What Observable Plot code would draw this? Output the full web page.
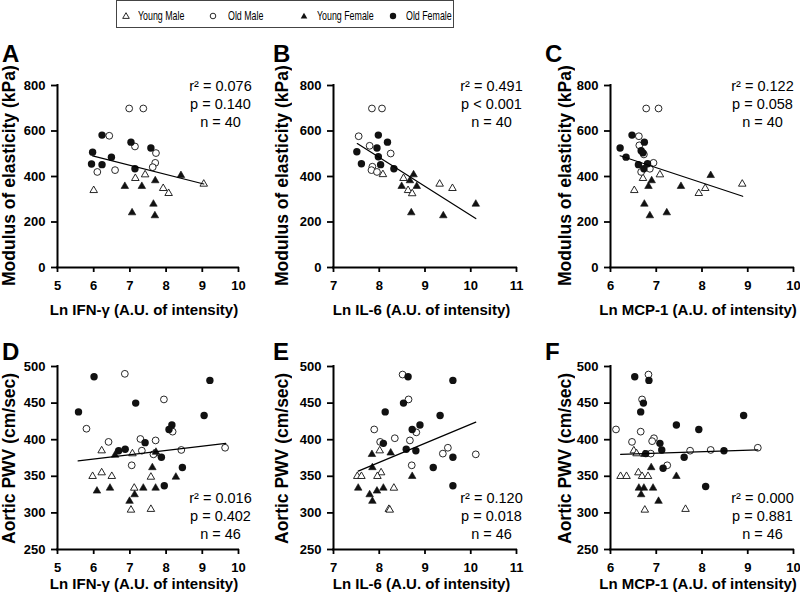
<!DOCTYPE html>
<html><head><meta charset="utf-8">
<script src="https://cdn.jsdelivr.net/npm/d3@7"></script>
<script src="https://cdn.jsdelivr.net/npm/@observablehq/plot@0.6"></script>
<style>
body{margin:0;background:#fff;}
#root{position:relative;width:800px;height:599px;overflow:hidden;background:#fff;font-family:"Liberation Sans",Arial,sans-serif;color:#000;}
.abs{position:absolute;}
.letter{font-size:24px;font-weight:bold;line-height:24px;}
.xt{font-size:15px;font-weight:bold;line-height:15px;width:300px;text-align:center;white-space:nowrap;}
.yt{font-size:17.5px;font-weight:bold;line-height:18px;width:18px;height:260px;text-align:center;white-space:nowrap;writing-mode:vertical-rl;transform:rotate(180deg);}
#legend{left:116px;top:0px;width:338px;height:28px;border:1px solid #444;box-sizing:border-box;}
.lgtext{font-size:13px;line-height:13px;white-space:nowrap;transform:scaleX(0.68);transform-origin:left center;}
</style></head>
<body><div id="root"></div>
<script>
// ---------- data ----------
const legendLabels = ["Young Male", "Old Male", "Young Female", "Old Female"];
const panelLetters = ["A", "B", "C", "D", "E", "F"];
const xTitles = ["Ln IFN-γ (A.U. of intensity)", "Ln IL-6 (A.U. of intensity)", "Ln MCP-1 (A.U. of intensity)"];
const yTitles = ["Modulus of elasticity (kPa)", "Aortic PWV (cm/sec)"];
const xTicksIFN = [5, 6, 7, 8, 9, 10];
const xTicksIL6 = [7, 8, 9, 10, 11];
const xTicksMCP = [6, 7, 8, 9, 10];
const yTicksMod = [0, 200, 400, 600, 800];
const yTicksPWV = [250, 300, 350, 400, 450, 500];

// Panel A: modulus vs Ln IFN-γ
const A_youngMale = [[6.0,339],[7.15,392],[7.42,408],[7.92,348],[8.07,326],[9.04,367]];
const A_oldMale = [[6.98,699],[7.37,699],[6.43,579],[7.14,532],[6.10,420],[6.59,428],[7.72,503],[7.70,460],[7.63,441]];
const A_youngFemale = [[6.86,357],[7.33,357],[7.70,382],[8.41,405],[7.06,241],[7.65,279],[7.69,228]];
const A_oldFemale = [[5.97,507],[5.94,455],[6.23,452],[6.23,582],[6.49,485],[7.03,551],[7.14,434],[7.58,525]];
const A_fit = [[5.97,491],[9.04,367]];
const A_stats = ["r² = 0.076", "p = 0.140", "n = 40"];

// Panel B: modulus vs Ln IL-6
const B_youngMale = [[8.08,409],[8.53,392],[8.63,339],[8.72,325],[9.32,367],[9.60,348]];
const B_oldMale = [[7.84,699],[8.06,699],[7.55,577],[7.79,535],[8.25,501],[7.85,443],[7.83,428],[7.95,420]];
const B_youngFemale = [[8.49,357],[8.75,408],[8.67,382],[8.82,357],[8.70,241],[9.40,228],[10.11,279]];
const B_oldFemale = [[7.98,582],[8.18,551],[7.95,525],[7.51,509],[7.98,487],[8.03,452],[7.61,456],[8.32,434]];
const B_fit = [[7.52,545],[10.11,215]];
const B_stats = ["r² = 0.491", "p < 0.001", "n = 40"];

// Panel C: modulus vs Ln MCP-1
const C_youngMale = [[6.52,339],[6.71,392],[7.08,408],[7.93,326],[8.07,348],[8.88,367]];
const C_oldMale = [[6.78,699],[7.05,699],[6.62,577],[6.63,537],[6.73,497],[6.94,460],[6.67,420],[6.86,434]];
const C_youngFemale = [[6.83,357],[6.90,382],[6.74,279],[6.86,228],[7.23,241],[7.54,357],[8.19,405]];
const C_oldFemale = [[6.21,525],[6.34,485],[6.47,582],[6.74,551],[6.67,513],[6.71,504],[6.61,452],[6.81,456],[6.73,434]];
const C_fit = [[6.21,491],[8.89,313]];
const C_stats = ["r² = 0.122", "p = 0.058", "n = 40"];

// Panel D: PWV vs Ln IFN-γ
const D_youngMale = [[6.22,385],[7.07,381],[5.97,350],[6.22,355],[6.50,350],[7.58,349],[7.12,334],[7.03,304],[7.58,305],[7.67,381]];
const D_oldMale = [[6.86,490],[7.94,455],[5.80,415],[6.41,397],[7.29,401],[7.71,399],[7.33,385],[8.18,411],[8.42,386],[9.63,389],[7.05,365],[7.65,380]];
const D_youngFemale = [[6.59,379],[7.72,383],[7.62,362],[6.09,330],[6.45,334],[6.99,316],[7.13,325],[7.37,334],[7.71,334],[8.27,349]];
const D_oldFemale = [[5.58,438],[6.01,486],[7.16,450],[9.21,481],[9.05,433],[8.16,420],[8.08,414],[7.42,396],[6.69,385],[6.87,387],[7.87,376],[8.45,362],[7.95,337]];
const D_fit = [[5.57,371],[9.65,395]];
const D_stats = ["r² = 0.016", "p = 0.402", "n = 46"];

// Panel E: PWV vs Ln IL-6
const E_youngMale = [[7.52,350],[7.61,350],[8.01,385],[8.04,355],[7.96,350],[8.32,334],[8.21,305],[8.23,304]];
const E_oldMale = [[8.51,489],[8.64,455],[7.89,414],[8.02,397],[8.34,402],[8.67,399],[8.81,410],[8.71,365],[9.50,389],[9.39,381],[10.11,380]];
const E_youngFemale = [[7.84,380],[8.25,382],[7.85,362],[7.54,334],[7.79,325],[7.85,316],[7.95,330],[8.09,334],[8.72,350]];
const E_oldFemale = [[8.63,486],[9.61,481],[8.53,450],[8.13,438],[9.33,433],[8.89,420],[8.72,414],[8.09,395],[8.59,387],[8.80,385],[9.61,376],[9.18,362],[9.61,337]];
const E_fit = [[7.54,357],[10.11,424]];
const E_stats = ["r² = 0.120", "p = 0.018", "n = 46"];

// Panel F: PWV vs Ln MCP-1
const F_youngMale = [[6.22,350],[6.35,350],[6.61,355],[6.69,350],[6.82,350],[6.51,385],[6.57,381],[6.75,304],[7.64,305]];
const F_oldMale = [[6.83,489],[6.69,455],[6.12,414],[6.66,411],[6.47,397],[6.95,402],[6.91,398],[6.88,381],[7.24,365],[7.74,385],[8.19,386],[9.22,389]];
const F_youngFemale = [[6.74,380],[6.89,362],[6.62,334],[6.67,325],[6.73,334],[6.93,334],[7.05,316],[7.44,350]];
const F_oldFemale = [[6.53,486],[6.84,481],[6.72,450],[6.66,438],[7.44,420],[7.93,414],[8.91,433],[7.08,395],[7.12,386],[7.15,361],[7.61,376],[8.48,385],[8.08,336],[6.77,381]];
const F_fit = [[6.22,380],[9.22,386]];
const F_stats = ["r² = 0.000", "p = 0.881", "n = 46"];

// ---------- layout ----------
const root = document.getElementById("root");
const FONT = '"Liberation Sans", Arial, sans-serif';
const intFmt = d3.format("d");

function add(txt, cls, left, top) {
  const d = document.createElement("div");
  d.className = "abs " + cls;
  d.style.left = left + "px";
  d.style.top = top + "px";
  d.textContent = txt;
  root.appendChild(d);
  return d;
}

function panel(p) {
  const frameW = p.frame[1] - p.frame[0];
  const frameH = p.frameY[1] - p.frameY[0];
  const mL = 55, mT = 10, mB = 30, mR = p.mR;
  const g = p.groups;
  const xy = {x: d => d[0], y: d => d[1]};
  const svg = Plot.plot({
    width: mL + frameW + mR,
    height: mT + frameH + mB,
    marginLeft: mL, marginRight: mR, marginTop: mT, marginBottom: mB,
    x: {domain: p.xDomain, label: null, nice: false},
    y: {domain: p.yDomain, label: null, nice: false},
    style: {fontFamily: FONT, fontSize: "13px", fontWeight: "bold", color: "black", background: "transparent", overflow: "visible"},
    marks: [
      Plot.axisX({ticks: p.xTicks, tickFormat: intFmt, tickSize: 5, tickPadding: 8, strokeWidth: 1.8, label: null}),
      Plot.axisY({ticks: p.yTicks, tickFormat: intFmt, tickSize: 6, tickPadding: 6, strokeWidth: 1.8, label: null}),
      Plot.dot(g[0], {...xy, symbol: "triangle", r: 2.8, fill: "white", stroke: "#111", strokeWidth: 0.9}),
      Plot.dot(g[1], {...xy, symbol: "circle", r: 3.4, fill: "white", stroke: "#111", strokeWidth: 0.9}),
      Plot.dot(g[2], {...xy, symbol: "triangle", r: 2.8, fill: "#111", stroke: "#111", strokeWidth: 0.6}),
      Plot.dot(g[3], {...xy, symbol: "circle", r: 3.7, fill: "#111", stroke: "none"}),
      Plot.line(p.fit, {...xy, stroke: "black", strokeWidth: 1.2}),
      Plot.ruleX([p.xDomain[0]], {strokeWidth: 2, strokeLinecap: "square"}),
      Plot.ruleY([p.yDomain[0]], {strokeWidth: 2, strokeLinecap: "square"}),
      Plot.text([p.stats.join("\n")], {
        text: d => d,
        frameAnchor: p.bottom ? "bottom-right" : "top-right",
        dx: p.statDx, dy: p.statDy,
        textAnchor: "middle", lineAnchor: "middle", lineHeight: 1.25,
        fontSize: 14.5, fontWeight: "normal", fill: "black"
      })
    ]
  });
  const wrap = document.createElement("div");
  wrap.className = "abs";
  wrap.style.left = (p.frame[0] - mL) + "px";
  wrap.style.top = (p.frameY[0] - mT) + "px";
  wrap.appendChild(svg);
  root.appendChild(wrap);
}

const colX = [[57, 238], [333, 516], [610, 793]];
const rowY = [[85, 267], [366, 549]];
const colMR = [20, 20, 7];
const colStatDx = [-18, -25, -31];
const colYTitleX = [9, 281.5, 564.5];
const colLetterX = [2, 273, 545];
const colXTitleC = [144, 421.5, 698];

const specs = [
  {groups: [A_youngMale, A_oldMale, A_youngFemale, A_oldFemale], fit: A_fit, stats: A_stats, xDomain: [5, 10], xTicks: xTicksIFN, yDomain: [0, 800], yTicks: yTicksMod},
  {groups: [B_youngMale, B_oldMale, B_youngFemale, B_oldFemale], fit: B_fit, stats: B_stats, xDomain: [7, 11], xTicks: xTicksIL6, yDomain: [0, 800], yTicks: yTicksMod},
  {groups: [C_youngMale, C_oldMale, C_youngFemale, C_oldFemale], fit: C_fit, stats: C_stats, xDomain: [6, 10], xTicks: xTicksMCP, yDomain: [0, 800], yTicks: yTicksMod},
  {groups: [D_youngMale, D_oldMale, D_youngFemale, D_oldFemale], fit: D_fit, stats: D_stats, xDomain: [5, 10], xTicks: xTicksIFN, yDomain: [250, 500], yTicks: yTicksPWV},
  {groups: [E_youngMale, E_oldMale, E_youngFemale, E_oldFemale], fit: E_fit, stats: E_stats, xDomain: [7, 11], xTicks: xTicksIL6, yDomain: [250, 500], yTicks: yTicksPWV},
  {groups: [F_youngMale, F_oldMale, F_youngFemale, F_oldFemale], fit: F_fit, stats: F_stats, xDomain: [6, 10], xTicks: xTicksMCP, yDomain: [250, 500], yTicks: yTicksPWV}
];

specs.forEach((s, i) => {
  const col = i % 3, row = Math.floor(i / 3);
  panel({
    ...s,
    frame: colX[col], frameY: rowY[row], mR: colMR[col],
    statDx: colStatDx[col],
    bottom: row === 1,
    statDy: row === 0 ? 18 : -34
  });
  add(panelLetters[i], "letter", colLetterX[col], row === 0 ? 42 : 340);
  add(xTitles[col], "xt", colXTitleC[col] - 150, row === 0 ? 302 : 576);
  const cy = (rowY[row][0] + rowY[row][1]) / 2;
  add(yTitles[row], "yt", colYTitleX[col] - 9, cy - 130);
});

// ---------- legend ----------
const legend = document.createElement("div");
legend.id = "legend";
legend.className = "abs";
root.appendChild(legend);
const legendMarkerX = [125, 212, 303, 392];
const legendTextX = [137, 227, 316, 405];
const markerSvg = [
  '<svg width="10" height="10" viewBox="-5 -5 10 10"><path d="M0,-3.3L3.3,2.4L-3.3,2.4Z" fill="white" stroke="#111" stroke-width="0.9"/></svg>',
  '<svg width="10" height="10" viewBox="-5 -5 10 10"><circle r="2.8" fill="white" stroke="#111" stroke-width="0.9"/></svg>',
  '<svg width="10" height="10" viewBox="-5 -5 10 10"><path d="M0,-3.3L3.3,2.4L-3.3,2.4Z" fill="#111"/></svg>',
  '<svg width="10" height="10" viewBox="-5 -5 10 10"><circle r="3.2" fill="#111"/></svg>'
];
legendLabels.forEach((lab, i) => {
  const m = document.createElement("div");
  m.className = "abs";
  m.style.left = (legendMarkerX[i] - 116 - 5) + "px";
  m.style.top = (14.5 - 5) + "px";
  m.style.lineHeight = "0";
  m.innerHTML = markerSvg[i];
  legend.appendChild(m);
  const t = document.createElement("div");
  t.className = "abs lgtext";
  t.style.left = (legendTextX[i] - 116) + "px";
  t.style.top = "8px";
  t.textContent = lab;
  legend.appendChild(t);
});
</script>
</body></html>
